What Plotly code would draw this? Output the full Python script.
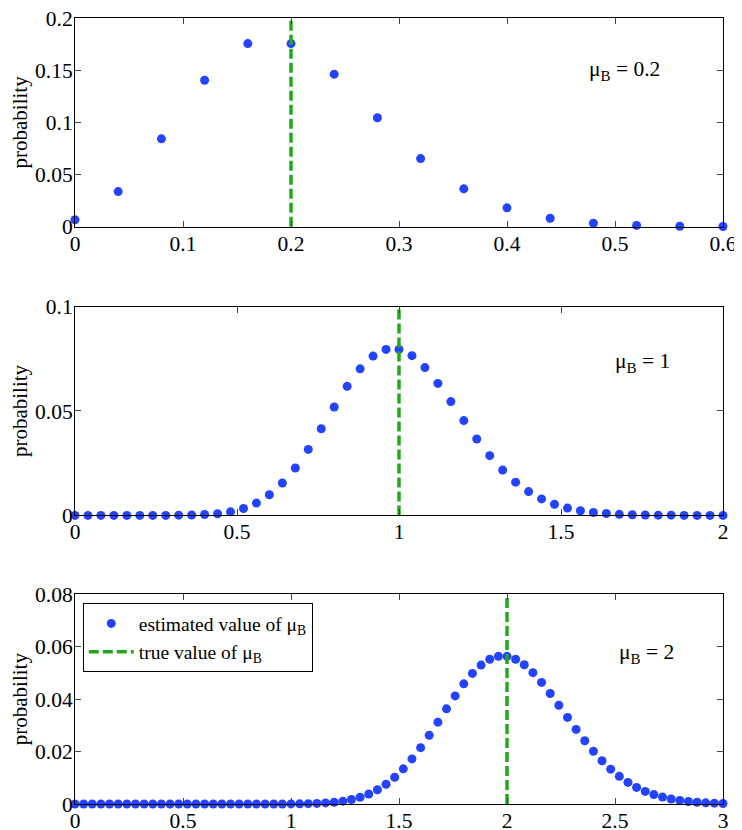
import plotly.graph_objects as go
from plotly.subplots import make_subplots

# estimated value of mu_B, panel 1 (true mu_B = 0.2)
x_top = [0.0, 0.04, 0.08, 0.12, 0.16, 0.2, 0.24, 0.28, 0.32, 0.36, 0.4, 0.44, 0.48, 0.52, 0.56, 0.6]
p_top = [0.0067, 0.0337, 0.0842, 0.1404, 0.1755, 0.1755, 0.1462, 0.1044, 0.0653, 0.0363,
         0.0181, 0.0082, 0.0034, 0.0013, 0.0005, 0.0002]

# panel 2 (true mu_B = 1)
x_mid = [0.0, 0.04, 0.08, 0.12, 0.16, 0.2, 0.24, 0.28, 0.32, 0.36, 0.4, 0.44, 0.48, 0.52,
         0.56, 0.6, 0.64, 0.68, 0.72, 0.76, 0.8, 0.84, 0.88, 0.92, 0.96, 1.0, 1.04, 1.08,
         1.12, 1.16, 1.2, 1.24, 1.28, 1.32, 1.36, 1.4, 1.44, 1.48, 1.52, 1.56, 1.6, 1.64,
         1.68, 1.72, 1.76, 1.8, 1.84, 1.88, 1.92, 1.96, 2.0]
p_mid = [0.0, 0.0, 0.0, 0.0, 0.0, 0.0, 0.0, 0.0, 0.0001, 0.0002, 0.0004, 0.0008, 0.0017,
         0.0033, 0.0059, 0.0099, 0.0155, 0.0227, 0.0316, 0.0415, 0.0519, 0.0618, 0.0702,
         0.0763, 0.0795, 0.0795, 0.0765, 0.0708, 0.0632, 0.0545, 0.0454, 0.0366, 0.0286,
         0.0217, 0.0159, 0.0114, 0.0079, 0.0053, 0.0035, 0.0022, 0.0014, 0.0009, 0.0005,
         0.0003, 0.0002, 0.0001, 0.0001, 0.0, 0.0, 0.0, 0.0]

# panel 3 (true mu_B = 2)
x_bot = [0.0, 0.04, 0.08, 0.12, 0.16, 0.2, 0.24, 0.28, 0.32, 0.36, 0.4, 0.44, 0.48, 0.52,
         0.56, 0.6, 0.64, 0.68, 0.72, 0.76, 0.8, 0.84, 0.88, 0.92, 0.96, 1.0, 1.04, 1.08,
         1.12, 1.16, 1.2, 1.24, 1.28, 1.32, 1.36, 1.4, 1.44, 1.48, 1.52, 1.56, 1.6, 1.64,
         1.68, 1.72, 1.76, 1.8, 1.84, 1.88, 1.92, 1.96, 2.0, 2.04, 2.08, 2.12, 2.16, 2.2,
         2.24, 2.28, 2.32, 2.36, 2.4, 2.44, 2.48, 2.52, 2.56, 2.6, 2.64, 2.68, 2.72, 2.76,
         2.8, 2.84, 2.88, 2.92, 2.96, 3.0]
p_bot = [0.0, 0.0, 0.0, 0.0, 0.0, 0.0, 0.0, 0.0, 0.0, 0.0, 0.0, 0.0, 0.0, 0.0, 0.0, 0.0,
         0.0, 0.0, 0.0, 0.0, 0.0, 0.0, 0.0, 0.0, 0.0, 0.00004, 0.00007, 0.00013, 0.00024,
         0.00041, 0.00068, 0.00109, 0.00171, 0.00259, 0.0038, 0.00543, 0.00755, 0.0102,
         0.01342, 0.0172, 0.0215, 0.02622, 0.03122, 0.0363, 0.04125, 0.04583, 0.04981,
         0.05299, 0.0552, 0.05633, 0.05633, 0.05523, 0.0531, 0.0501, 0.04639, 0.04217,
         0.03765, 0.03303, 0.02847, 0.02413, 0.02011, 0.01648, 0.01329, 0.01055, 0.00824,
         0.00634, 0.0048, 0.00358, 0.00263, 0.00191, 0.00136, 0.00096, 0.00066, 0.00045,
         0.00031, 0.0002]

mu_true = [0.2, 1, 2]
mu_labels = ["0.2", "1", "2"]
x_ranges = [[0, 0.6], [0, 2], [0, 3]]
y_ranges = [[0, 0.2], [0, 0.1], [0, 0.08]]
x_ticks = [[0, 0.1, 0.2, 0.3, 0.4, 0.5, 0.6], [0, 0.5, 1, 1.5, 2], [0, 0.5, 1, 1.5, 2, 2.5, 3]]
y_ticks = [[0, 0.05, 0.1, 0.15, 0.2], [0, 0.05, 0.1], [0, 0.02, 0.04, 0.06, 0.08]]

FONT = "Liberation Serif, Times New Roman, Times, serif"
BLUE = "#2343ff"
GREEN = "#22a81a"

fig = make_subplots(rows=3, cols=1)
panels = [(x_top, p_top), (x_mid, p_mid), (x_bot, p_bot)]
domains = [[0.7344, 1.0], [0.3672, 0.6328], [0.0, 0.2668]]
# label placement inside each panel (axis-domain fractions)
label_pos = [(0.79, 0.75), (0.83, 0.73), (0.836, 0.72)]

for i, (xs, ps) in enumerate(panels):
    row = i + 1
    last = (i == 2)
    fig.add_trace(go.Scatter(
        x=xs, y=ps, mode="markers", name="estimated value of μ<sub>B</sub>",
        marker=dict(color=BLUE, size=9, symbol="circle"),
        cliponaxis=False, showlegend=last,
    ), row=row, col=1)
    fig.add_trace(go.Scatter(
        x=[mu_true[i], mu_true[i]], y=y_ranges[i], mode="lines",
        name="true value of μ<sub>B</sub>",
        line=dict(color=GREEN, width=3.5, dash="10px,4px"),
        showlegend=last,
    ), row=row, col=1)

    fig.update_xaxes(range=x_ranges[i], tickvals=x_ticks[i], row=row, col=1)
    fig.update_yaxes(range=y_ranges[i], tickvals=y_ticks[i], domain=domains[i],
                     title=dict(text="probability", standoff=5), row=row, col=1)

    xref = "x" if i == 0 else "x%d" % row
    yref = "y" if i == 0 else "y%d" % row
    fig.add_annotation(
        x=label_pos[i][0], xref=xref + " domain", y=label_pos[i][1], yref=yref + " domain",
        text="μ<sub>B</sub> = " + mu_labels[i], showarrow=False,
        font=dict(family=FONT, size=21.5, color="black"), xanchor="left", yanchor="middle",
    )

fig.update_xaxes(showgrid=False, zeroline=False, showline=True, linecolor="black",
                 linewidth=1, mirror="ticks", ticks="inside", ticklen=6, automargin=False,
                 ticklabeloverflow="allow", ticklabelstandoff=-3,
                 tickcolor="#444", tickfont=dict(family=FONT, size=21.5, color="black"))
fig.update_yaxes(showgrid=False, zeroline=False, showline=True, linecolor="black",
                 linewidth=1, mirror="ticks", ticks="inside", ticklen=6, automargin=False,
                 ticklabeloverflow="allow", ticklabelstandoff=-3,
                 tickcolor="#444", tickfont=dict(family=FONT, size=21.5, color="black"),
                 title_font=dict(family=FONT, size=21, color="black"))

# page body adds an 8px offset, so margins are shifted to compensate
fig.update_layout(
    width=742, height=830,
    margin=dict(l=67, r=27, t=10, b=34),
    paper_bgcolor="white", plot_bgcolor="white",
    font=dict(family=FONT, size=20, color="black"),
    legend=dict(x=0.012, y=0.2554, xanchor="left", yanchor="top",
                bordercolor="black", borderwidth=1, bgcolor="white", itemwidth=45,
                font=dict(family=FONT, size=19.5, color="black")),
)

fig.write_html("out.html")
